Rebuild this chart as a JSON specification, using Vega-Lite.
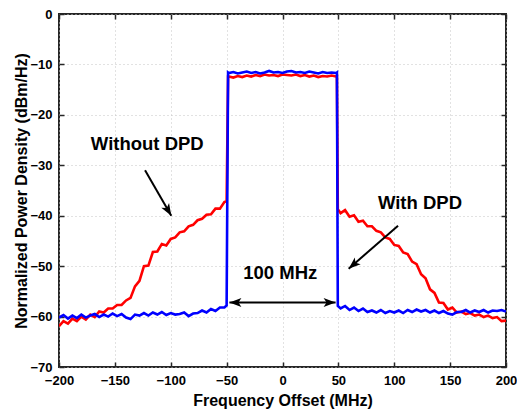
{
  "$schema": "https://vega.github.io/schema/vega-lite/v6.json",
  "width": 447,
  "height": 353,
  "autosize": {"type": "none"},
  "padding": {"left": 59, "top": 14, "right": 11, "bottom": 42},
  "background": "white",
  "datasets": {
    "without": [
      {"f": -200, "v": -61.9}, {"f": -196, "v": -60.9}, {"f": -192, "v": -61.4}, {"f": -188, "v": -60.4},
      {"f": -184, "v": -60.9}, {"f": -180, "v": -60.0}, {"f": -176, "v": -60.6}, {"f": -172, "v": -59.6},
      {"f": -168, "v": -60.1}, {"f": -164, "v": -59.0}, {"f": -160, "v": -59.2}, {"f": -156, "v": -58.4},
      {"f": -152, "v": -58.4}, {"f": -148, "v": -57.7}, {"f": -144, "v": -57.7}, {"f": -140, "v": -56.8},
      {"f": -136, "v": -56.3}, {"f": -132, "v": -54.0}, {"f": -128, "v": -52.9}, {"f": -124, "v": -50.0},
      {"f": -120, "v": -49.9}, {"f": -116, "v": -47.2}, {"f": -112, "v": -47.1}, {"f": -108, "v": -45.6},
      {"f": -104, "v": -45.9}, {"f": -100, "v": -44.6}, {"f": -96, "v": -44.3}, {"f": -92, "v": -43.3},
      {"f": -88, "v": -43.1}, {"f": -84, "v": -42.1}, {"f": -80, "v": -41.8}, {"f": -76, "v": -40.9},
      {"f": -72, "v": -40.6}, {"f": -68, "v": -39.8}, {"f": -64, "v": -39.7}, {"f": -60, "v": -38.6},
      {"f": -56, "v": -38.6}, {"f": -52, "v": -37.3}, {"f": -50, "v": -37.1}, {"f": -48.7, "v": -12.4},
      {"f": -48, "v": -12.4}, {"f": -44, "v": -12.6}, {"f": -40, "v": -12.3}, {"f": -36, "v": -12.5},
      {"f": -32, "v": -12.2}, {"f": -28, "v": -12.4}, {"f": -24, "v": -12.1}, {"f": -20, "v": -12.3},
      {"f": -16, "v": -12.0}, {"f": -12, "v": -12.2}, {"f": -8, "v": -12.1}, {"f": -4, "v": -12.3},
      {"f": 0, "v": -12.0}, {"f": 4, "v": -12.1}, {"f": 8, "v": -12.2}, {"f": 12, "v": -12.0},
      {"f": 16, "v": -12.3}, {"f": 20, "v": -12.1}, {"f": 24, "v": -12.4}, {"f": 28, "v": -12.2},
      {"f": 32, "v": -12.5}, {"f": 36, "v": -12.3}, {"f": 40, "v": -12.4}, {"f": 44, "v": -12.2},
      {"f": 48, "v": -12.4}, {"f": 48.7, "v": -12.4}, {"f": 49.5, "v": -38.7}, {"f": 52, "v": -39.5},
      {"f": 56, "v": -38.9}, {"f": 60, "v": -40.2}, {"f": 64, "v": -39.9}, {"f": 68, "v": -41.2},
      {"f": 72, "v": -41.0}, {"f": 76, "v": -42.1}, {"f": 80, "v": -42.1}, {"f": 84, "v": -43.0},
      {"f": 88, "v": -43.3}, {"f": 92, "v": -44.3}, {"f": 96, "v": -44.6}, {"f": 100, "v": -45.8},
      {"f": 104, "v": -46.0}, {"f": 108, "v": -47.3}, {"f": 112, "v": -47.6}, {"f": 116, "v": -49.1},
      {"f": 120, "v": -49.6}, {"f": 124, "v": -51.6}, {"f": 128, "v": -52.4}, {"f": 132, "v": -54.6},
      {"f": 136, "v": -55.3}, {"f": 140, "v": -57.2}, {"f": 144, "v": -57.3}, {"f": 148, "v": -58.6},
      {"f": 152, "v": -58.2}, {"f": 156, "v": -59.2}, {"f": 160, "v": -59.0}, {"f": 164, "v": -59.5},
      {"f": 168, "v": -59.3}, {"f": 172, "v": -59.8}, {"f": 176, "v": -59.6}, {"f": 180, "v": -60.1},
      {"f": 184, "v": -59.8}, {"f": 188, "v": -60.3}, {"f": 192, "v": -60.1}, {"f": 196, "v": -60.9},
      {"f": 200, "v": -60.8}
    ],
    "with": [
      {"f": -200, "v": -60.2}, {"f": -196, "v": -59.7}, {"f": -192, "v": -60.4}, {"f": -188, "v": -59.8},
      {"f": -184, "v": -60.3}, {"f": -180, "v": -59.6}, {"f": -176, "v": -60.2}, {"f": -172, "v": -59.8},
      {"f": -168, "v": -59.5}, {"f": -164, "v": -60.1}, {"f": -160, "v": -59.6}, {"f": -156, "v": -60.0},
      {"f": -152, "v": -59.4}, {"f": -148, "v": -59.9}, {"f": -144, "v": -59.5}, {"f": -140, "v": -60.2},
      {"f": -136, "v": -60.5}, {"f": -132, "v": -59.6}, {"f": -128, "v": -59.8}, {"f": -124, "v": -59.3},
      {"f": -120, "v": -59.8}, {"f": -116, "v": -59.2}, {"f": -112, "v": -59.6}, {"f": -108, "v": -59.1},
      {"f": -104, "v": -59.7}, {"f": -100, "v": -59.3}, {"f": -96, "v": -59.6}, {"f": -92, "v": -59.5},
      {"f": -88, "v": -59.2}, {"f": -84, "v": -59.9}, {"f": -80, "v": -59.4}, {"f": -76, "v": -59.3},
      {"f": -72, "v": -58.8}, {"f": -68, "v": -59.2}, {"f": -64, "v": -58.5}, {"f": -60, "v": -58.9},
      {"f": -56, "v": -58.2}, {"f": -52, "v": -58.2}, {"f": -50, "v": -57.8}, {"f": -48.7, "v": -11.6},
      {"f": -48, "v": -11.7}, {"f": -44, "v": -11.5}, {"f": -40, "v": -11.8}, {"f": -36, "v": -11.6},
      {"f": -32, "v": -11.4}, {"f": -28, "v": -11.7}, {"f": -24, "v": -11.5}, {"f": -20, "v": -11.8},
      {"f": -16, "v": -11.6}, {"f": -12, "v": -11.3}, {"f": -8, "v": -11.6}, {"f": -4, "v": -11.5},
      {"f": 0, "v": -11.7}, {"f": 4, "v": -11.4}, {"f": 8, "v": -11.3}, {"f": 12, "v": -11.6},
      {"f": 16, "v": -11.5}, {"f": 20, "v": -11.7}, {"f": 24, "v": -11.4}, {"f": 28, "v": -11.6},
      {"f": 32, "v": -11.8}, {"f": 36, "v": -11.5}, {"f": 40, "v": -11.7}, {"f": 44, "v": -11.6},
      {"f": 48, "v": -11.7}, {"f": 48.7, "v": -11.6}, {"f": 49.5, "v": -57.9}, {"f": 52, "v": -58.4},
      {"f": 56, "v": -57.9}, {"f": 60, "v": -58.7}, {"f": 64, "v": -58.2}, {"f": 68, "v": -58.9},
      {"f": 72, "v": -58.4}, {"f": 76, "v": -59.1}, {"f": 80, "v": -58.8}, {"f": 84, "v": -59.2},
      {"f": 88, "v": -58.7}, {"f": 92, "v": -59.3}, {"f": 96, "v": -58.9}, {"f": 100, "v": -59.2},
      {"f": 104, "v": -58.8}, {"f": 108, "v": -59.3}, {"f": 112, "v": -58.7}, {"f": 116, "v": -59.1},
      {"f": 120, "v": -58.6}, {"f": 124, "v": -59.0}, {"f": 128, "v": -58.7}, {"f": 132, "v": -59.2},
      {"f": 136, "v": -58.8}, {"f": 140, "v": -59.3}, {"f": 144, "v": -58.9}, {"f": 148, "v": -59.4},
      {"f": 152, "v": -59.6}, {"f": 156, "v": -59.1}, {"f": 160, "v": -59.1}, {"f": 164, "v": -58.7},
      {"f": 168, "v": -59.2}, {"f": 172, "v": -58.8}, {"f": 176, "v": -59.1}, {"f": 180, "v": -58.7},
      {"f": 184, "v": -59.2}, {"f": 188, "v": -58.8}, {"f": 192, "v": -58.9}, {"f": 196, "v": -58.7},
      {"f": 200, "v": -59.0}
    ],
    "notes": [
      {"t": "Without DPD", "x": -121, "y": -25.8},
      {"t": "With DPD", "x": 123, "y": -37.4},
      {"t": "100 MHz", "x": -2, "y": -51.4}
    ],
    "arrows": [
      {"id": "without", "x": -123, "y": -31, "x2": -99.5, "y2": -40},
      {"id": "with", "x": 103.4, "y": -42, "x2": 59.2, "y2": -50.5},
      {"id": "bw", "x": -47.5, "y": -57.2, "x2": 47.5, "y2": -57.2}
    ]
  },
  "resolve": {"axis": {"x": "independent", "y": "independent"}},
  "layer": [
    {
      "layer": [
        {
          "data": {"name": "without"},
          "mark": {"type": "line", "color": "#ff0000", "strokeWidth": 2.6, "clip": true},
          "encoding": {
            "x": {"field": "f", "type": "quantitative", "scale": {"domain": [-200, 200], "nice": false},
                  "axis": {"values": [-200, -150, -100, -50, 0, 50, 100, 150, 200], "title": "Frequency Offset (MHz)", "titleX": 223.5, "titleY": 33, "titleBaseline": "middle", "labelPadding": 12, "labelFlush": false, "labelOverlap": false}},
            "y": {"field": "v", "type": "quantitative", "scale": {"domain": [-70, 0], "nice": false},
                  "axis": {"values": [-70, -60, -50, -40, -30, -20, -10, 0], "title": "Normalized Power Density (dBm/Hz)", "titleX": -38, "titleY": 176.5, "titleBaseline": "middle", "titleAlign": "center", "labelPadding": 12, "labelFlush": false, "labelOverlap": false}}
          }
        },
        {
          "data": {"name": "with"},
          "mark": {"type": "line", "color": "#0000ff", "strokeWidth": 2.6, "clip": true},
          "encoding": {
            "x": {"field": "f", "type": "quantitative"},
            "y": {"field": "v", "type": "quantitative"}
          }
        },
        {
          "data": {"name": "arrows"},
          "mark": {"type": "rule", "color": "black", "strokeWidth": 2},
          "encoding": {
            "x": {"field": "x", "type": "quantitative"},
            "y": {"field": "y", "type": "quantitative"},
            "x2": {"field": "x2"},
            "y2": {"field": "y2"}
          }
        },
        {
          "data": {"name": "arrows"},
          "transform": [{"filter": "datum.id == 'without'"}],
          "mark": {"type": "point", "shape": "M0,0 L4.5,12 L0,9 L-4.5,12 Z", "size": 4, "filled": true, "color": "black", "opacity": 1, "angle": 149.3},
          "encoding": {
            "x": {"field": "x2", "type": "quantitative"},
            "y": {"field": "y2", "type": "quantitative"}
          }
        },
        {
          "data": {"name": "arrows"},
          "transform": [{"filter": "datum.id == 'with'"}],
          "mark": {"type": "point", "shape": "M0,0 L4.5,12 L0,9 L-4.5,12 Z", "size": 4, "filled": true, "color": "black", "opacity": 1, "angle": 229.2},
          "encoding": {
            "x": {"field": "x2", "type": "quantitative"},
            "y": {"field": "y2", "type": "quantitative"}
          }
        },
        {
          "data": {"name": "arrows"},
          "transform": [{"filter": "datum.id == 'bw'"}],
          "mark": {"type": "point", "shape": "M0,0 L4.5,12 L0,9 L-4.5,12 Z", "size": 4, "filled": true, "color": "black", "opacity": 1, "angle": 90},
          "encoding": {
            "x": {"field": "x2", "type": "quantitative"},
            "y": {"field": "y2", "type": "quantitative"}
          }
        },
        {
          "data": {"name": "arrows"},
          "transform": [{"filter": "datum.id == 'bw'"}],
          "mark": {"type": "point", "shape": "M0,0 L4.5,12 L0,9 L-4.5,12 Z", "size": 4, "filled": true, "color": "black", "opacity": 1, "angle": 270},
          "encoding": {
            "x": {"field": "x", "type": "quantitative"},
            "y": {"field": "y", "type": "quantitative"}
          }
        },
        {
          "data": {"name": "notes"},
          "mark": {"type": "text", "font": "Liberation Sans", "fontWeight": "bold", "fontSize": 18.5, "align": "center", "baseline": "middle", "color": "black"},
          "encoding": {
            "x": {"field": "x", "type": "quantitative"},
            "y": {"field": "y", "type": "quantitative"},
            "text": {"field": "t"}
          }
        }
      ]
    },
    {
      "data": {"name": "with"},
      "mark": {"type": "line", "strokeOpacity": 0},
      "encoding": {
        "x": {"field": "f", "type": "quantitative", "axis": {"orient": "top", "values": [-200, -150, -100, -50, 0, 50, 100, 150, 200], "labels": false, "title": null, "grid": false}},
        "y": {"field": "v", "type": "quantitative", "axis": {"orient": "right", "values": [-70, -60, -50, -40, -30, -20, -10, 0], "labels": false, "title": null, "grid": false}}
      }
    }
  ],
  "config": {
    "view": {"stroke": "#262626", "strokeWidth": 2},
    "axis": {
      "domain": false,
      "grid": true,
      "gridColor": "#c4c4c4",
      "gridDash": [1, 3],
      "gridWidth": 1,
      "ticks": true,
      "tickColor": "#262626",
      "tickSize": -5,
      "tickWidth": 1.5,
      "labelFont": "Liberation Sans",
      "labelFontWeight": "bold",
      "labelFontSize": 13,
      "labelColor": "#000000",
      "titleFont": "Liberation Sans",
      "titleFontWeight": "bold",
      "titleFontSize": 16,
      "titleColor": "#000000"
    }
  }
}
